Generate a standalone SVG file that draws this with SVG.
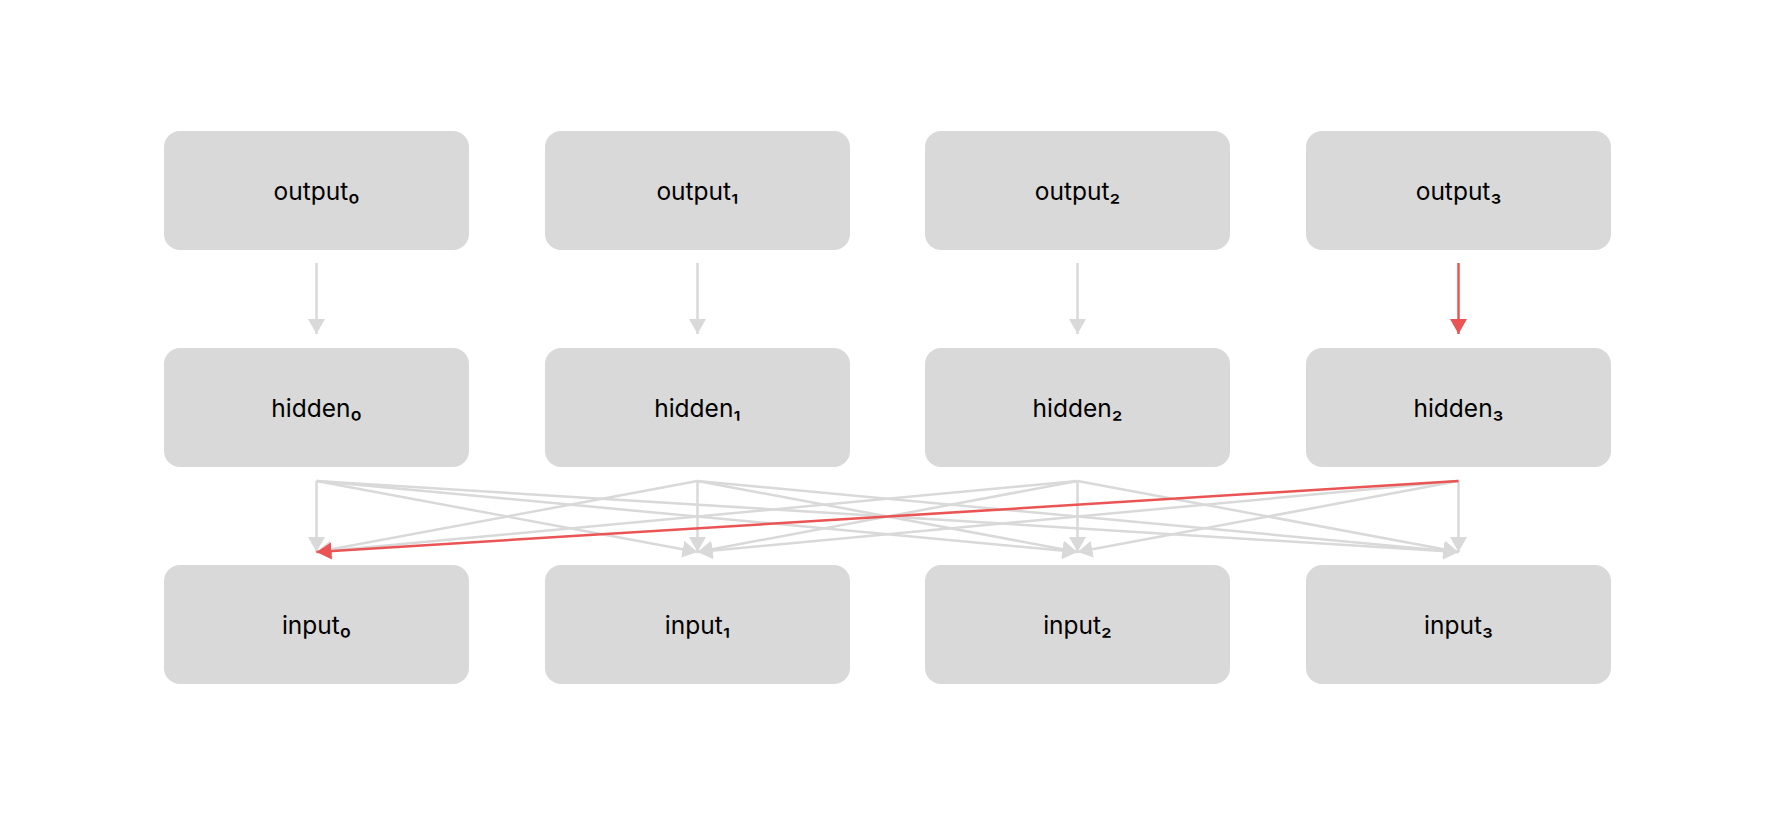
<svg xmlns="http://www.w3.org/2000/svg" width="1775" height="816" viewBox="0 0 1775 816">
<style>
.box{fill:#d9d9d9}
.lbl{font-family:Inter,"Liberation Sans",sans-serif;font-size:24.5px;fill:#000;text-anchor:middle;dominant-baseline:central}
.e{stroke:#d9d9d9;stroke-width:2.5;fill:none}
.r{stroke:#eb5454;stroke-width:2.5;fill:none}
</style>
<defs>
<marker id="ag" markerUnits="userSpaceOnUse" markerWidth="18" markerHeight="18" refX="15" refY="8.5" orient="auto"><path d="M0,0 L15,8.5 L0,17 z" fill="#d9d9d9"/></marker>
<marker id="ar" markerUnits="userSpaceOnUse" markerWidth="18" markerHeight="18" refX="15" refY="8.5" orient="auto"><path d="M0,0 L15,8.5 L0,17 z" fill="#eb5454"/></marker>
</defs>
<rect width="1775" height="816" fill="#fff"/>
<g id="output0"><rect class="box" x="164" y="131" width="305" height="119" rx="16"/><text class="lbl" x="316.5" y="191">output₀</text></g>
<g id="output1"><rect class="box" x="545" y="131" width="305" height="119" rx="16"/><text class="lbl" x="697.5" y="191">output₁</text></g>
<g id="output2"><rect class="box" x="925" y="131" width="305" height="119" rx="16"/><text class="lbl" x="1077.5" y="191">output₂</text></g>
<g id="output3"><rect class="box" x="1306" y="131" width="305" height="119" rx="16"/><text class="lbl" x="1458.5" y="191">output₃</text></g>
<g id="hidden0"><rect class="box" x="164" y="348" width="305" height="119" rx="16"/><text class="lbl" x="316.5" y="408">hidden₀</text></g>
<g id="hidden1"><rect class="box" x="545" y="348" width="305" height="119" rx="16"/><text class="lbl" x="697.5" y="408">hidden₁</text></g>
<g id="hidden2"><rect class="box" x="925" y="348" width="305" height="119" rx="16"/><text class="lbl" x="1077.5" y="408">hidden₂</text></g>
<g id="hidden3"><rect class="box" x="1306" y="348" width="305" height="119" rx="16"/><text class="lbl" x="1458.5" y="408">hidden₃</text></g>
<g id="input0"><rect class="box" x="164" y="565" width="305" height="119" rx="16"/><text class="lbl" x="316.5" y="625">input₀</text></g>
<g id="input1"><rect class="box" x="545" y="565" width="305" height="119" rx="16"/><text class="lbl" x="697.5" y="625">input₁</text></g>
<g id="input2"><rect class="box" x="925" y="565" width="305" height="119" rx="16"/><text class="lbl" x="1077.5" y="625">input₂</text></g>
<g id="input3"><rect class="box" x="1306" y="565" width="305" height="119" rx="16"/><text class="lbl" x="1458.5" y="625">input₃</text></g>
<g id="connectors">
<line class="e" x1="316.5" y1="263" x2="316.5" y2="334" marker-end="url(#ag)"/>
<line class="e" x1="697.5" y1="263" x2="697.5" y2="334" marker-end="url(#ag)"/>
<line class="e" x1="1077.5" y1="263" x2="1077.5" y2="334" marker-end="url(#ag)"/>
<line class="r" x1="1458.5" y1="263" x2="1458.5" y2="334" marker-end="url(#ar)"/>
<line class="e" x1="316.5" y1="481" x2="316.5" y2="552" marker-end="url(#ag)"/>
<line class="e" x1="316.5" y1="481" x2="697.5" y2="552" marker-end="url(#ag)"/>
<line class="e" x1="316.5" y1="481" x2="1077.5" y2="552" marker-end="url(#ag)"/>
<line class="e" x1="316.5" y1="481" x2="1458.5" y2="552" marker-end="url(#ag)"/>
<line class="e" x1="697.5" y1="481" x2="316.5" y2="552" marker-end="url(#ag)"/>
<line class="e" x1="697.5" y1="481" x2="697.5" y2="552" marker-end="url(#ag)"/>
<line class="e" x1="697.5" y1="481" x2="1077.5" y2="552" marker-end="url(#ag)"/>
<line class="e" x1="697.5" y1="481" x2="1458.5" y2="552" marker-end="url(#ag)"/>
<line class="e" x1="1077.5" y1="481" x2="316.5" y2="552" marker-end="url(#ag)"/>
<line class="e" x1="1077.5" y1="481" x2="697.5" y2="552" marker-end="url(#ag)"/>
<line class="e" x1="1077.5" y1="481" x2="1077.5" y2="552" marker-end="url(#ag)"/>
<line class="e" x1="1077.5" y1="481" x2="1458.5" y2="552" marker-end="url(#ag)"/>
<line class="e" x1="1458.5" y1="481" x2="697.5" y2="552" marker-end="url(#ag)"/>
<line class="e" x1="1458.5" y1="481" x2="1077.5" y2="552" marker-end="url(#ag)"/>
<line class="e" x1="1458.5" y1="481" x2="1458.5" y2="552" marker-end="url(#ag)"/>
<line class="r" x1="1458.5" y1="481" x2="316.5" y2="552" marker-end="url(#ar)"/>
</g>
</svg>
